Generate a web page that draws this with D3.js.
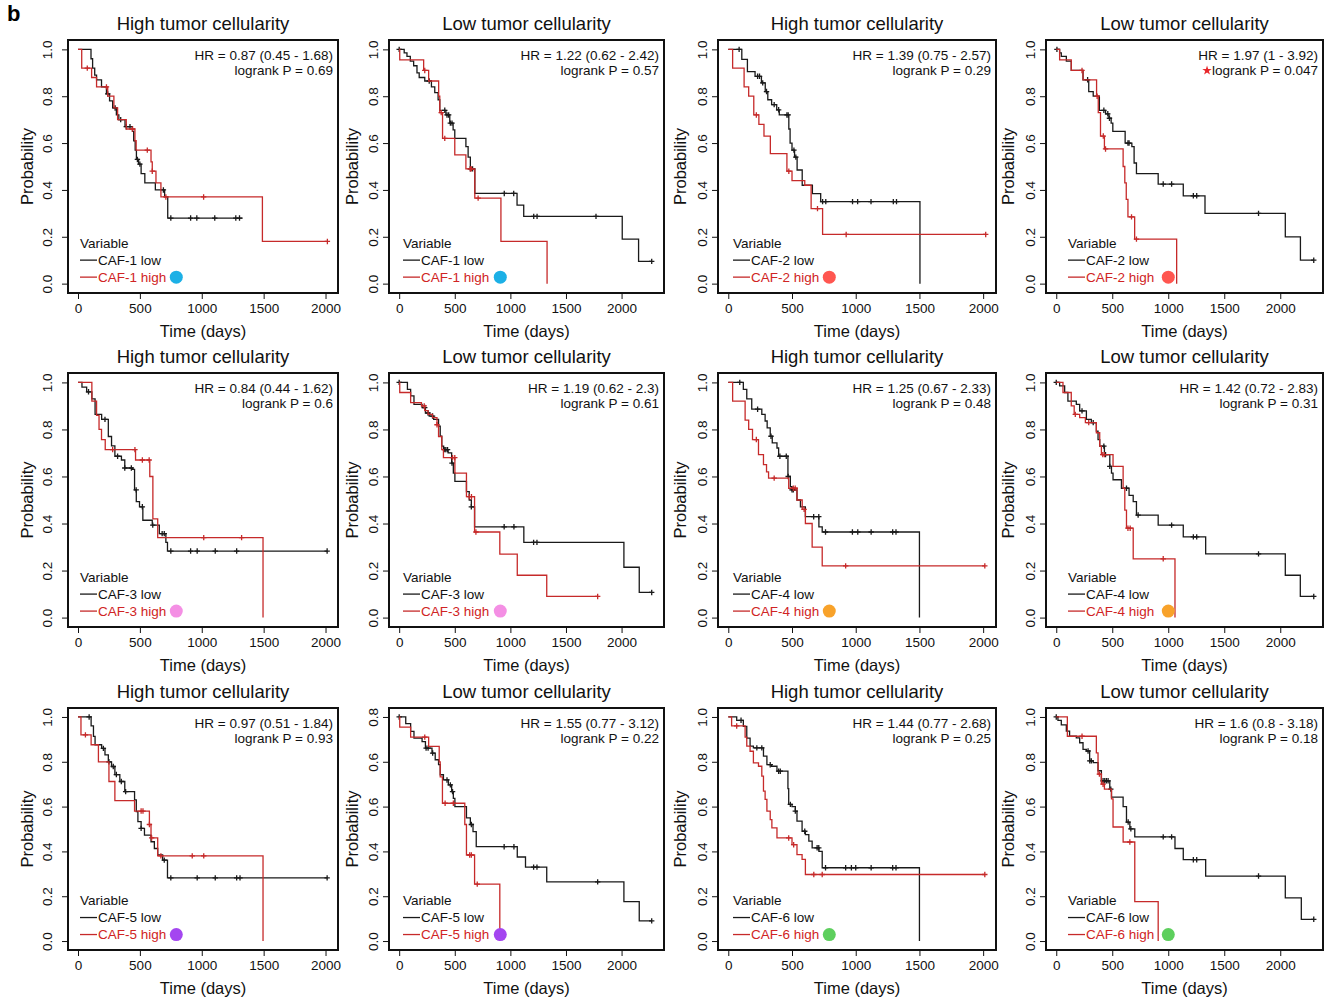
<!DOCTYPE html>
<html>
<head>
<meta charset="utf-8">
<script src="https://cdn.jsdelivr.net/npm/d3@7"></script>
<style>
  body { margin: 0; background: #fff; }
  text { font-family: "Liberation Sans", Arial, Helvetica, sans-serif; }
</style>
</head>
<body>
<svg id="chart" width="1330" height="1000"></svg>
<script>
// Panel texts
const titles = ["High tumor cellularity", "Low tumor cellularity", "High tumor cellularity", "Low tumor cellularity",
  "High tumor cellularity", "Low tumor cellularity", "High tumor cellularity", "Low tumor cellularity",
  "High tumor cellularity", "Low tumor cellularity", "High tumor cellularity", "Low tumor cellularity"];
const cafNames = ["CAF-1", "CAF-1", "CAF-2", "CAF-2", "CAF-3", "CAF-3", "CAF-4", "CAF-4", "CAF-5", "CAF-5", "CAF-6", "CAF-6"];
const hrLabels = ["HR = 0.87 (0.45 - 1.68)", "HR = 1.22 (0.62 - 2.42)", "HR = 1.39 (0.75 - 2.57)", "HR = 1.97 (1 - 3.92)",
  "HR = 0.84 (0.44 - 1.62)", "HR = 1.19 (0.62 - 2.3)", "HR = 1.25 (0.67 - 2.33)", "HR = 1.42 (0.72 - 2.83)",
  "HR = 0.97 (0.51 - 1.84)", "HR = 1.55 (0.77 - 3.12)", "HR = 1.44 (0.77 - 2.68)", "HR = 1.6 (0.8 - 3.18)"];
const pLabels = ["logrank P = 0.69", "logrank P = 0.57", "logrank P = 0.29", "logrank P = 0.047",
  "logrank P = 0.6", "logrank P = 0.61", "logrank P = 0.48", "logrank P = 0.31",
  "logrank P = 0.93", "logrank P = 0.22", "logrank P = 0.25", "logrank P = 0.18"];
const significant = [false, false, false, true, false, false, false, false, false, false, false, false];
const dotColors = ["#1cb0e6", "#1cb0e6", "#ff5650", "#ff5650", "#f48fe4", "#f48fe4",
  "#f8a22a", "#f8a22a", "#a446f0", "#a446f0", "#5dcf5d", "#5dcf5d"];

// Axes
const xTicks = [0, 500, 1000, 1500, 2000];
const yTicks = [0, 0.2, 0.4, 0.6, 0.8, 1.0];
const yTickLabels = ["0.0", "0.2", "0.4", "0.6", "0.8", "1.0"];
const yTickLabelsOdd = ["0.0", "0.2", "0.4", "0.6", "0.6", "0.8"]; // as printed in panel 10
const xMaxDays = [2020, 2290, 2020, 2290]; // per column

// Kaplan-Meier steps: [day, survival after drop]
const lowSteps = [
  [[105,0.96],[118,0.92],[135,0.89],[150,0.87],[190,0.84],[230,0.81],[255,0.78],[280,0.75],[310,0.72],[330,0.70],[380,0.67],[440,0.65],[450,0.61],[462,0.57],[472,0.53],[490,0.51],[510,0.47],[540,0.43],[625,0.40],[700,0.37],[725,0.28]],
  [[45,0.985],[70,0.97],[100,0.95],[130,0.93],[160,0.90],[180,0.88],[230,0.865],[290,0.84],[320,0.815],[350,0.785],[365,0.74],[420,0.72],[455,0.685],[485,0.656],[500,0.62],[600,0.585],[620,0.54],[640,0.49],[680,0.385],[1060,0.335],[1120,0.287],[2006,0.19],[2153,0.095]],
  [[106,0.957],[150,0.905],[210,0.885],[260,0.857],[290,0.82],[310,0.785],[340,0.764],[380,0.742],[400,0.72],[475,0.66],[485,0.60],[500,0.57],[520,0.54],[540,0.485],[580,0.42],[660,0.384],[725,0.35],[1504,0]],
  [[30,0.985],[45,0.97],[90,0.95],[134,0.91],[239,0.87],[290,0.82],[330,0.80],[385,0.74],[440,0.725],[470,0.706],[490,0.685],[505,0.65],[615,0.60],[675,0.585],[695,0.515],[716,0.47],[910,0.425],[1134,0.375],[1328,0.30],[2045,0.20],[2180,0.10]],
  [[32,0.98],[70,0.96],[112,0.93],[138,0.864],[191,0.843],[245,0.77],[271,0.73],[298,0.686],[351,0.67],[378,0.636],[440,0.63],[457,0.543],[471,0.493],[497,0.471],[524,0.414],[600,0.393],[657,0.357],[710,0.32],[723,0.283]],
  [[74,0.97],[103,0.943],[133,0.907],[206,0.893],[236,0.87],[270,0.857],[310,0.843],[354,0.814],[369,0.771],[383,0.729],[400,0.714],[440,0.70],[472,0.657],[487,0.614],[501,0.579],[605,0.536],[630,0.50],[649,0.471],[678,0.386],[1121,0.32],[2021,0.214],[2159,0.107]],
  [[118,0.97],[145,0.93],[184,0.886],[263,0.864],[289,0.836],[305,0.807],[329,0.771],[345,0.743],[382,0.721],[395,0.686],[468,0.60],[487,0.557],[500,0.543],[539,0.50],[566,0.471],[605,0.429],[711,0.386],[737,0.364],[1500,0]],
  [[30,0.985],[75,0.957],[104,0.92],[179,0.907],[209,0.879],[269,0.843],[313,0.829],[358,0.793],[373,0.757],[388,0.729],[430,0.693],[478,0.643],[493,0.614],[507,0.586],[582,0.55],[650,0.52],[687,0.493],[716,0.436],[910,0.393],[1134,0.343],[1334,0.271],[2045,0.18],[2179,0.09]],
  [[106,0.96],[125,0.913],[138,0.876],[191,0.86],[218,0.831],[245,0.80],[271,0.779],[298,0.743],[338,0.712],[378,0.667],[457,0.63],[471,0.578],[484,0.533],[510,0.503],[537,0.473],[590,0.443],[617,0.413],[644,0.384],[684,0.361],[723,0.282]],
  [[59,0.97],[103,0.936],[133,0.906],[206,0.89],[236,0.861],[295,0.839],[324,0.809],[354,0.787],[369,0.742],[398,0.719],[442,0.697],[472,0.667],[487,0.637],[501,0.60],[605,0.55],[640,0.52],[664,0.488],[693,0.421],[1062,0.375],[1136,0.33],[1327,0.264],[2021,0.176],[2159,0.09]],
  [[66,0.985],[118,0.958],[145,0.906],[171,0.87],[197,0.862],[276,0.825],[303,0.787],[340,0.78],[382,0.758],[468,0.68],[474,0.61],[500,0.60],[526,0.58],[539,0.535],[579,0.49],[605,0.475],[632,0.446],[658,0.416],[711,0.40],[737,0.327],[1500,0]],
  [[15,0.985],[45,0.965],[90,0.937],[119,0.914],[179,0.907],[209,0.885],[239,0.855],[269,0.848],[298,0.804],[330,0.796],[373,0.76],[403,0.715],[478,0.678],[493,0.642],[597,0.60],[627,0.531],[657,0.501],[701,0.465],[1060,0.413],[1134,0.363],[1334,0.29],[2045,0.193],[2188,0.097]]
];
const highSteps = [
  [[30,0.92],[110,0.88],[150,0.84],[240,0.80],[290,0.75],[320,0.70],[390,0.66],[460,0.61],[470,0.57],[590,0.52],[600,0.48],[630,0.43],[670,0.37],[1490,0.18]],
  [[5,0.955],[220,0.91],[265,0.865],[355,0.80],[365,0.73],[390,0.62],[500,0.55],[600,0.49],[680,0.365],[915,0.18],[1330,0]],
  [[34,0.92],[124,0.84],[160,0.80],[200,0.72],[240,0.68],[280,0.63],[330,0.555],[460,0.48],[500,0.44],[600,0.42],[650,0.32],[740,0.21]],
  [[30,0.955],[134,0.91],[239,0.87],[360,0.80],[375,0.73],[395,0.63],[430,0.575],[597,0.50],[612,0.43],[625,0.36],[640,0.285],[700,0.19],[1075,0]],
  [[112,0.92],[150,0.86],[170,0.80],[190,0.757],[220,0.714],[465,0.67],[580,0.60],[605,0.42],[644,0.34],[1495,0]],
  [[5,0.957],[103,0.914],[200,0.90],[230,0.88],[260,0.864],[300,0.85],[340,0.82],[354,0.77],[383,0.714],[398,0.68],[501,0.614],[605,0.514],[678,0.364],[905,0.27],[1062,0.18],[1327,0.09]],
  [[34,0.92],[132,0.84],[160,0.80],[190,0.757],[237,0.693],[276,0.65],[300,0.62],[316,0.593],[474,0.55],[539,0.50],[580,0.46],[605,0.40],[658,0.30],[737,0.22]],
  [[60,0.957],[134,0.90],[160,0.864],[209,0.85],[260,0.829],[358,0.786],[388,0.729],[403,0.693],[507,0.643],[597,0.55],[612,0.457],[627,0.38],[687,0.25],[1060,0]],
  [[24,0.92],[106,0.876],[165,0.80],[250,0.712],[298,0.627],[457,0.58],[577,0.52],[590,0.46],[644,0.38],[1495,0]],
  [[5,0.955],[103,0.91],[265,0.869],[360,0.80],[369,0.733],[389,0.615],[590,0.52],[605,0.384],[678,0.254],[905,0]],
  [[26,0.96],[132,0.91],[145,0.87],[171,0.847],[197,0.795],[237,0.78],[263,0.736],[276,0.669],[289,0.632],[303,0.58],[329,0.542],[342,0.505],[382,0.46],[500,0.43],[539,0.386],[579,0.364],[605,0.297]],
  [[99,0.914],[358,0.84],[373,0.745],[403,0.70],[430,0.678],[493,0.634],[507,0.509],[597,0.442],[701,0.176],[910,0]]
];
// censored observations (days)
const lowCensors = [
  [240,300,345,390,420,480,500,690,750,910,960,1105,1275,1305],
  [0,270,410,430,445,460,475,640,660,945,1030,1210,1240,1770,2271],
  [85,230,245,270,300,360,395,460,470,515,530,740,765,975,1015,1120,1295,1320],
  [6,280,425,460,475,640,650,955,1030,1224,1254,1806,2299],
  [85,218,320,378,431,470,520,604,680,697,750,910,963,1109,1282,2013],
  [0,230,260,300,410,420,435,475,649,944,1032,1209,1239,2271],
  [90,230,335,405,455,470,500,510,670,710,763,974,1016,1121,1290,1316],
  [0,230,330,425,440,478,627,731,1030,1224,1254,1806,2299],
  [90,205,250,285,310,350,385,510,697,750,963,1109,1282,1309,2013],
  [0,242,260,301,430,460,480,649,944,1032,1209,1239,1785,2271],
  [100,224,263,329,395,408,487,526,600,697,710,763,921,966,1000,1121,1290,1316],
  [0,284,299,313,418,433,448,463,487,642,666,955,1030,1224,1254,1806,2299]
];
const highCensors = [
  [75,230,440,560,600,710,1015,2015],
  [230,378,410,640,650,710],
  [220,475,700,925,2020],
  [230,365,420,440,672,716],
  [280,460,520,575,1016,1322],
  [225,340,480,500,630,650,690,1785],
  [220,360,510,525,595,921,2013],
  [170,290,415,430,640,660,955],
  [60,510,525,577,595,670,923,1016],
  [230,413,487,634,649,702],
  [66,474,513,671,737,2013],
  [230,385,418,657]
];
const lowEnd = [1330, 2271, 1504, 2299, 2013, 2271, 1500, 2299, 2013, 2271, 1500, 2299];
const highEnd = [2015, 1330, 2020, 1075, 1495, 1785, 2013, 1060, 1495, 905, 2013, 910];

// layout
const colBox = [[68, 338], [389, 664], [718, 996], [1046, 1323]];
const rowBox = [[40, 293], [373, 627], [708, 950]];
const yLabelOff = [21, 16, 16, 16];
const yTitleOff = [41, 37, 38, 38];
const legendOff = [12, 14, 15, 22];
const dotGap = [10, 11, 10, 14];
const lowColor = "#1a1a1a";
const highColor = "#c62a2a";

const svg = d3.select("#chart");

svg.append("text")
  .attr("x", 7).attr("y", 21)
  .attr("font-size", 22).attr("font-weight", "bold")
  .text("b");

function survAt(steps, t) {
  let s = 1;
  steps.forEach(d => { if (d[0] <= t) s = d[1]; });
  return s;
}

function drawCurve(g, x, y, steps, censors, end, color) {
  const pts = [[0, 1]].concat(steps, [[end, steps[steps.length - 1][1]]]);
  const line = d3.line()
    .x(d => x(d[0]))
    .y(d => y(d[1]))
    .curve(d3.curveStepAfter);
  g.append("path")
    .attr("d", line(pts))
    .attr("fill", "none")
    .attr("stroke", color)
    .attr("stroke-width", 1.3);
  g.selectAll(null)
    .data(censors)
    .enter()
    .append("path")
    .attr("transform", d => "translate(" + x(d) + "," + y(survAt(steps, d)) + ")")
    .attr("d", "M-2.7,0H2.7M0,-2.7V2.7")
    .attr("stroke", color)
    .attr("stroke-width", 1.3);
}

titles.forEach((title, i) => {
  const row = Math.floor(i / 4), col = i % 4;
  const [x0, x1] = colBox[col];
  const [y0, y1] = rowBox[row];
  const M = xMaxDays[col];
  const x = d3.scaleLinear([-0.04 * M, 1.04 * M], [x0, x1]);
  const y = d3.scaleLinear([-0.04, 1.04], [y1, y0]);
  const g = svg.append("g");

  drawCurve(g, x, y, lowSteps[i], lowCensors[i], lowEnd[i], lowColor);
  drawCurve(g, x, y, highSteps[i], highCensors[i], highEnd[i], highColor);

  // frame
  g.append("rect")
    .attr("x", x0).attr("y", y0)
    .attr("width", x1 - x0).attr("height", y1 - y0)
    .attr("fill", "none").attr("stroke", "#111").attr("stroke-width", 2);

  // x axis
  const xAxis = d3.axisBottom(x).tickValues(xTicks).tickSize(6).tickPadding(4).tickFormat(d3.format("d"));
  const gx = g.append("g")
    .attr("transform", "translate(0," + y1 + ")")
    .call(xAxis);
  gx.select(".domain").remove();
  gx.selectAll("line").attr("stroke", "#111");
  gx.selectAll("text")
    .attr("font-family", null)
    .attr("font-size", 13.5)
    .attr("fill", "#111");

  // y axis
  const labels = i === 9 ? yTickLabelsOdd : yTickLabels;
  const yAxis = d3.axisLeft(y).tickValues(yTicks).tickSize(6).tickFormat((d, j) => labels[j]);
  const gy = g.append("g")
    .attr("transform", "translate(" + x0 + ",0)")
    .call(yAxis);
  gy.select(".domain").remove();
  gy.selectAll("line").attr("stroke", "#111");
  gy.selectAll("text")
    .attr("x", 0).attr("y", 0).attr("dy", "0.35em")
    .attr("text-anchor", "middle")
    .attr("transform", "translate(" + (-yLabelOff[col]) + ",0) rotate(-90)")
    .attr("font-family", null)
    .attr("font-size", 13.5)
    .attr("fill", "#111");

  // titles
  g.append("text")
    .attr("x", (x0 + x1) / 2).attr("y", y0 - 10)
    .attr("text-anchor", "middle")
    .attr("font-size", 18.5)
    .attr("fill", "#111")
    .text(title);
  g.append("text")
    .attr("x", (x0 + x1) / 2).attr("y", y1 + 44)
    .attr("text-anchor", "middle")
    .attr("font-size", 16.5)
    .attr("fill", "#111")
    .text("Time (days)");
  g.append("text")
    .attr("transform", "translate(" + (x0 - yTitleOff[col]) + "," + ((y0 + y1) / 2) + ") rotate(-90)")
    .attr("dy", "0.35em")
    .attr("text-anchor", "middle")
    .attr("font-size", 16.5)
    .attr("fill", "#111")
    .text("Probability");

  // HR and p value
  g.append("text")
    .attr("x", x1 - 5).attr("y", y0 + 20)
    .attr("text-anchor", "end")
    .attr("font-size", 13.5)
    .attr("fill", "#111")
    .text(hrLabels[i]);
  const pt = g.append("text")
    .attr("x", x1 - 5).attr("y", y0 + 35)
    .attr("text-anchor", "end")
    .attr("font-size", 13.5)
    .attr("fill", "#111")
    .text(pLabels[i]);
  if (significant[i]) {
    const w = pt.node().getComputedTextLength();
    g.append("path")
      .attr("transform", "translate(" + (x1 - 5 - w - 5) + "," + (y0 + 30.5) + ")")
      .attr("d", d3.symbol(d3.symbolStar, 28)())
      .attr("fill", "#e8262a");
  }

  // legend
  const lx = x0 + legendOff[col];
  const base = y(0);
  g.append("text")
    .attr("x", lx).attr("y", base - 40.5).attr("dy", "0.35em")
    .attr("font-size", 13.5).attr("fill", "#111")
    .text("Variable");
  [[lowColor, cafNames[i] + " low", base - 23.5], [highColor, cafNames[i] + " high", base - 6.5]].forEach(([c, label, ly], k) => {
    g.append("line")
      .attr("x1", lx).attr("x2", lx + 17)
      .attr("y1", ly).attr("y2", ly)
      .attr("stroke", c).attr("stroke-width", 1.3);
    const t = g.append("text")
      .attr("x", lx + 18).attr("y", ly).attr("dy", "0.35em")
      .attr("font-size", 13.5)
      .attr("fill", k === 0 ? "#111" : "#d02424")
      .text(label);
    if (k === 1) {
      const w = t.node().getComputedTextLength();
      g.append("circle")
        .attr("cx", lx + 18 + w + dotGap[col])
        .attr("cy", ly)
        .attr("r", 6.5)
        .attr("fill", dotColors[i]);
    }
  });
});
</script>
</body>
</html>
